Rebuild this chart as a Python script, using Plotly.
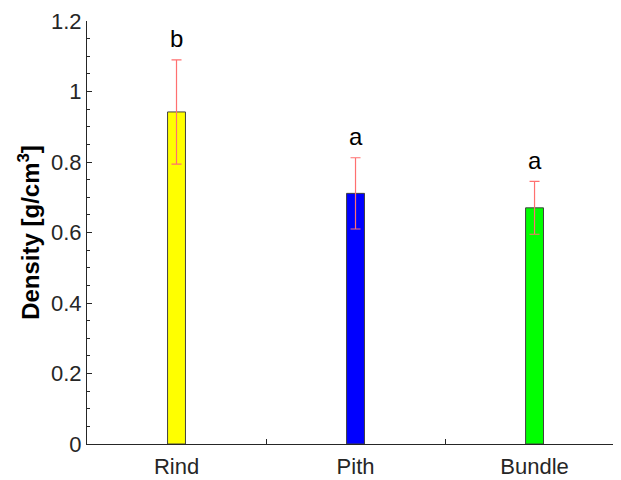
import plotly.graph_objects as go

categories = ["Rind", "Pith", "Bundle"]
density = [0.942, 0.711, 0.670]
err = [0.148, 0.101, 0.075]
letters = ["b", "a", "a"]
colors = ["#ffff00", "#0000ff", "#00ff00"]
yticks = [0, 0.2, 0.4, 0.6, 0.8, 1, 1.2]

xpos = [1, 2, 3]
font = "Liberation Sans, Arial, sans-serif"

fig = go.Figure()
fig.add_trace(go.Bar(
    x=xpos, y=density, width=0.1,
    marker=dict(color=colors, line=dict(color="#404040", width=1)),
    error_y=dict(type="data", array=err, visible=True, color="#ff7070", thickness=1.2, width=5),
    showlegend=False,
))
for x, y, e, t in zip(xpos, density, err, letters):
    fig.add_annotation(x=x, y=y + e + 0.06, text=t, showarrow=False, yanchor="middle",
                       font=dict(size=24, color="black", family=font))

fig.update_layout(
    width=613, height=472,
    margin=dict(l=79, r=0, t=13, b=36),
    plot_bgcolor="white", paper_bgcolor="white",
    font=dict(family=font, size=22, color="#262626"),
)
fig.update_xaxes(
    range=[0.5, 3.483], tickmode="array", tickvals=xpos, ticktext=categories,
    ticks="", showline=True, linecolor="#262626", linewidth=1, showgrid=False, zeroline=False,
    tickfont=dict(size=22, color="#262626"), automargin=False, ticklabelstandoff=3,
    minor=dict(tickmode="array", tickvals=[1.5, 2.5], ticks="inside", ticklen=5, tickcolor="#262626", showgrid=False),
)
fig.update_yaxes(
    range=[0, 1.2], tickmode="array", tickvals=yticks, ticktext=["0", "0.2", "0.4", "0.6", "0.8", "1", "1.2"],
    ticks="inside", ticklen=5, tickcolor="#262626", showline=True, linecolor="#262626", linewidth=1,
    showgrid=False, zeroline=False, tickfont=dict(size=22, color="#262626"), automargin=False,
    minor=dict(dtick=0.05, tick0=0, ticks="inside", ticklen=3, tickcolor="#262626", showgrid=False),
    title=dict(text="<b>Density [g/cm<sup>3</sup>]</b>", font=dict(size=24, color="black"), standoff=4),
)
fig.write_html("out.html")
